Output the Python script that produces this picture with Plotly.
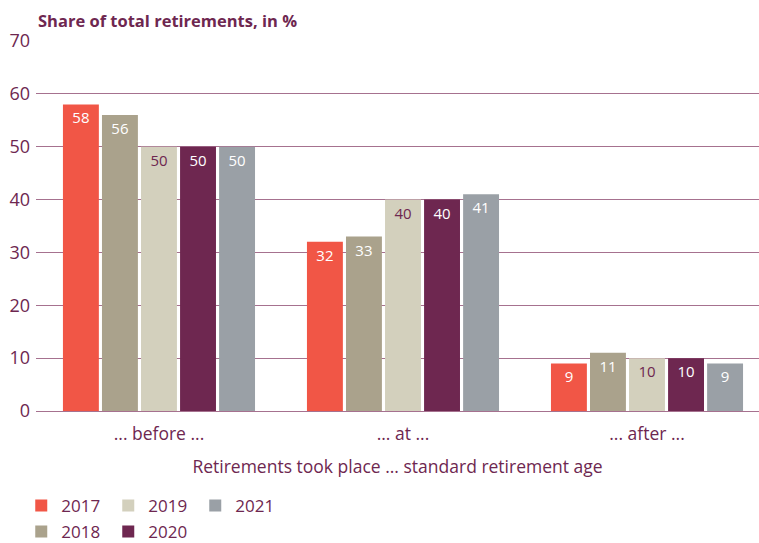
import plotly.graph_objects as go

# Share of retirements relative to the standard retirement age
categories = ["... before ...", "... at ...", "... after ..."]
years = ["2017", "2018", "2019", "2020", "2021"]
values_2017 = [58, 32, 9]
values_2018 = [56, 33, 11]
values_2019 = [50, 40, 10]
values_2020 = [50, 40, 10]
values_2021 = [50, 41, 9]
y_ticks = [0, 10, 20, 30, 40, 50, 60, 70]

series = [values_2017, values_2018, values_2019, values_2020, values_2021]
colors = ["#f15646", "#aaa28c", "#d3d0bd", "#6e2750", "#9aa0a6"]
text_colors = ["#ffffff", "#ffffff", "#6e2750", "#ffffff", "#ffffff"]
legend_ids = ["legend", "legend2", "legend", "legend2", "legend"]

PURPLE = "#6e2750"
FONT = "Open Sans"

fig = go.Figure()
for year, vals, col, tcol, lg in zip(years, series, colors, text_colors, legend_ids):
    fig.add_trace(go.Bar(
        name=year,
        x=categories,
        y=vals,
        marker=dict(color=col, line=dict(width=0)),
        text=[str(v) for v in vals],
        textposition="inside",
        insidetextanchor="end",
        textangle=0,
        constraintext="none",
        textfont=dict(color=tcol, size=15, family=FONT),
        legend=lg,
        hoverinfo="skip",
    ))

legend_common = dict(
    orientation="h",
    xref="container", yref="container",
    x=0.028, xanchor="left",
    yanchor="middle",
    entrywidth=42,
    itemwidth=30,
    font=dict(size=17, color=PURPLE),
    bgcolor="rgba(0,0,0,0)",
)

fig.update_layout(
    width=759,
    height=543,
    margin=dict(l=36, r=0, t=41, b=132, autoexpand=False),
    paper_bgcolor="white",
    plot_bgcolor="white",
    barmode="group",
    bargap=0.2,
    bargroupgap=0.08,
    font=dict(family=FONT, color=PURPLE, size=16),
    uniformtext=dict(minsize=15, mode="show"),
    xaxis=dict(
        type="category",
        range=[-0.504, 2.459],
        showgrid=False,
        showline=False,
        ticks="",
        automargin=False,
        ticklabelstandoff=10,
        tickfont=dict(size=17.5, color=PURPLE),
        title=dict(text="Retirements took place ... standard retirement age",
                   font=dict(size=17.5, color=PURPLE), standoff=17),
    ),
    yaxis=dict(
        range=[0, 70],
        tickvals=y_ticks,
        showgrid=True,
        gridcolor="#a6718f",
        gridwidth=1,
        zeroline=True,
        zerolinecolor="#a6718f",
        zerolinewidth=1,
        showline=False,
        ticks="",
        automargin=False,
        ticklabelstandoff=5,
        tickfont=dict(size=18, color=PURPLE),
    ),
    legend=dict(legend_common, y=1 - 506 / 543),
    legend2=dict(legend_common, y=1 - 532 / 543),
    annotations=[dict(
        text="<b>Share of total retirements, in %</b>",
        xref="paper", yref="paper",
        x=0, y=1, xanchor="left", yanchor="bottom",
        yshift=7,
        showarrow=False,
        font=dict(size=16.5, color=PURPLE, family=FONT),
    )],
)

fig.write_html("out.html")
